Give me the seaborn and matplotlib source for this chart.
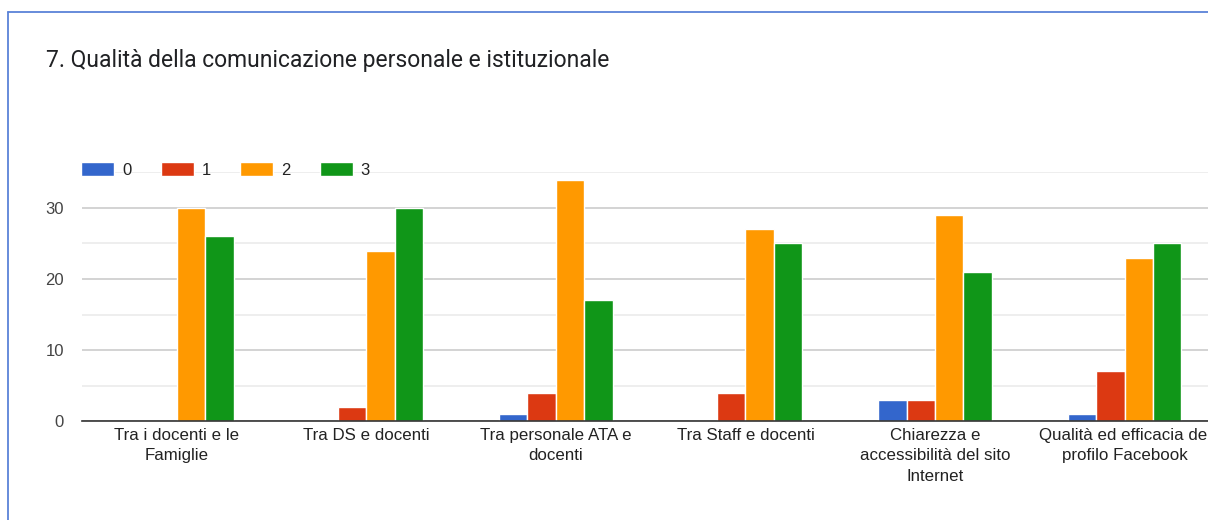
import matplotlib
matplotlib.use("Agg")
import matplotlib.pyplot as plt
import seaborn as sns
import pandas as pd
from matplotlib.lines import Line2D

categories = [
    "Tra i docenti e le\nFamiglie",
    "Tra DS e docenti",
    "Tra personale ATA e\ndocenti",
    "Tra Staff e docenti",
    "Chiarezza e\naccessibilità del sito\nInternet",
    "Qualità ed efficacia del\nprofilo Facebook",
]
series_names = ["0", "1", "2", "3"]
values_0 = [0, 0, 1, 0, 3, 1]
values_1 = [0, 2, 4, 4, 3, 7]
values_2 = [30, 24, 34, 27, 29, 23]
values_3 = [26, 30, 17, 25, 21, 25]
colors = ["#3366cc", "#dc3912", "#ff9900", "#109618"]
title = "7. Qualità della comunicazione personale e istituzionale"

rows = []
for name, vals in zip(series_names, [values_0, values_1, values_2, values_3]):
    for c, v in zip(categories, vals):
        rows.append({"cat": c, "serie": name, "val": v})
df = pd.DataFrame(rows)

sns.set_theme(style="white")
plt.rcParams["font.family"] = ["Liberation Sans", "DejaVu Sans"]

W, H = 1208, 520
fig = plt.figure(figsize=(W / 100, H / 100), dpi=100)
ax = fig.add_axes([82 / W, 1 - 421 / H, (1208 - 82) / W, (421 - 172.5) / H])

sns.barplot(data=df, x="cat", y="val", hue="serie", palette=colors,
            saturation=1, width=0.6, edgecolor="white", linewidth=1.0, ax=ax,
            order=categories, hue_order=series_names, legend=True)

ax.set_xlim(-0.5, 5.44)
ax.set_ylim(0, 35)
ax.set_yticks([0, 10, 20, 30])
ax.set_yticks([5, 15, 25, 35], minor=True)
ax.grid(axis="y", which="major", color="#cccccc", linewidth=1.2)
ax.grid(axis="y", which="minor", color="#ebebeb", linewidth=1.2)
ax.set_axisbelow(True)
for s in ["top", "right", "left"]:
    ax.spines[s].set_visible(False)
ax.spines["bottom"].set_color("#333333")
ax.spines["bottom"].set_linewidth(1.2)
ax.set_xlabel("")
ax.set_ylabel("")
ax.tick_params(axis="both", which="both", length=0)
ax.tick_params(axis="x", pad=5, labelsize=12.2, labelcolor="#222222")
ax.tick_params(axis="y", pad=13, labelsize=12, labelcolor="#444444")
for lbl in ax.get_xticklabels():
    lbl.set_linespacing(1.45)

handles, labels = ax.get_legend_handles_labels()
ax.legend(handles, labels, loc="center left", bbox_to_anchor=(73 / W, 1 - 170 / H),
          bbox_transform=fig.transFigure, ncol=4, frameon=False, borderpad=0,
          handlelength=1.98, handleheight=0.95, handletextpad=0.48,
          columnspacing=1.75, fontsize=12, labelcolor="#222222")

fig.text(46 / W, 1 - 61 / H, title, fontsize=16.5, color="#202124",
         va="center", ha="left", family=["Roboto", "DejaVu Sans"])

border = "#5a82d8"
fig.add_artist(Line2D([8 / W, 8 / W], [0, 1 - 12 / H], transform=fig.transFigure,
                      color=border, linewidth=1.3))
fig.add_artist(Line2D([8 / W, 1], [1 - 12 / H, 1 - 12 / H], transform=fig.transFigure,
                      color=border, linewidth=1.3))

fig.savefig("out.png", dpi=100)
